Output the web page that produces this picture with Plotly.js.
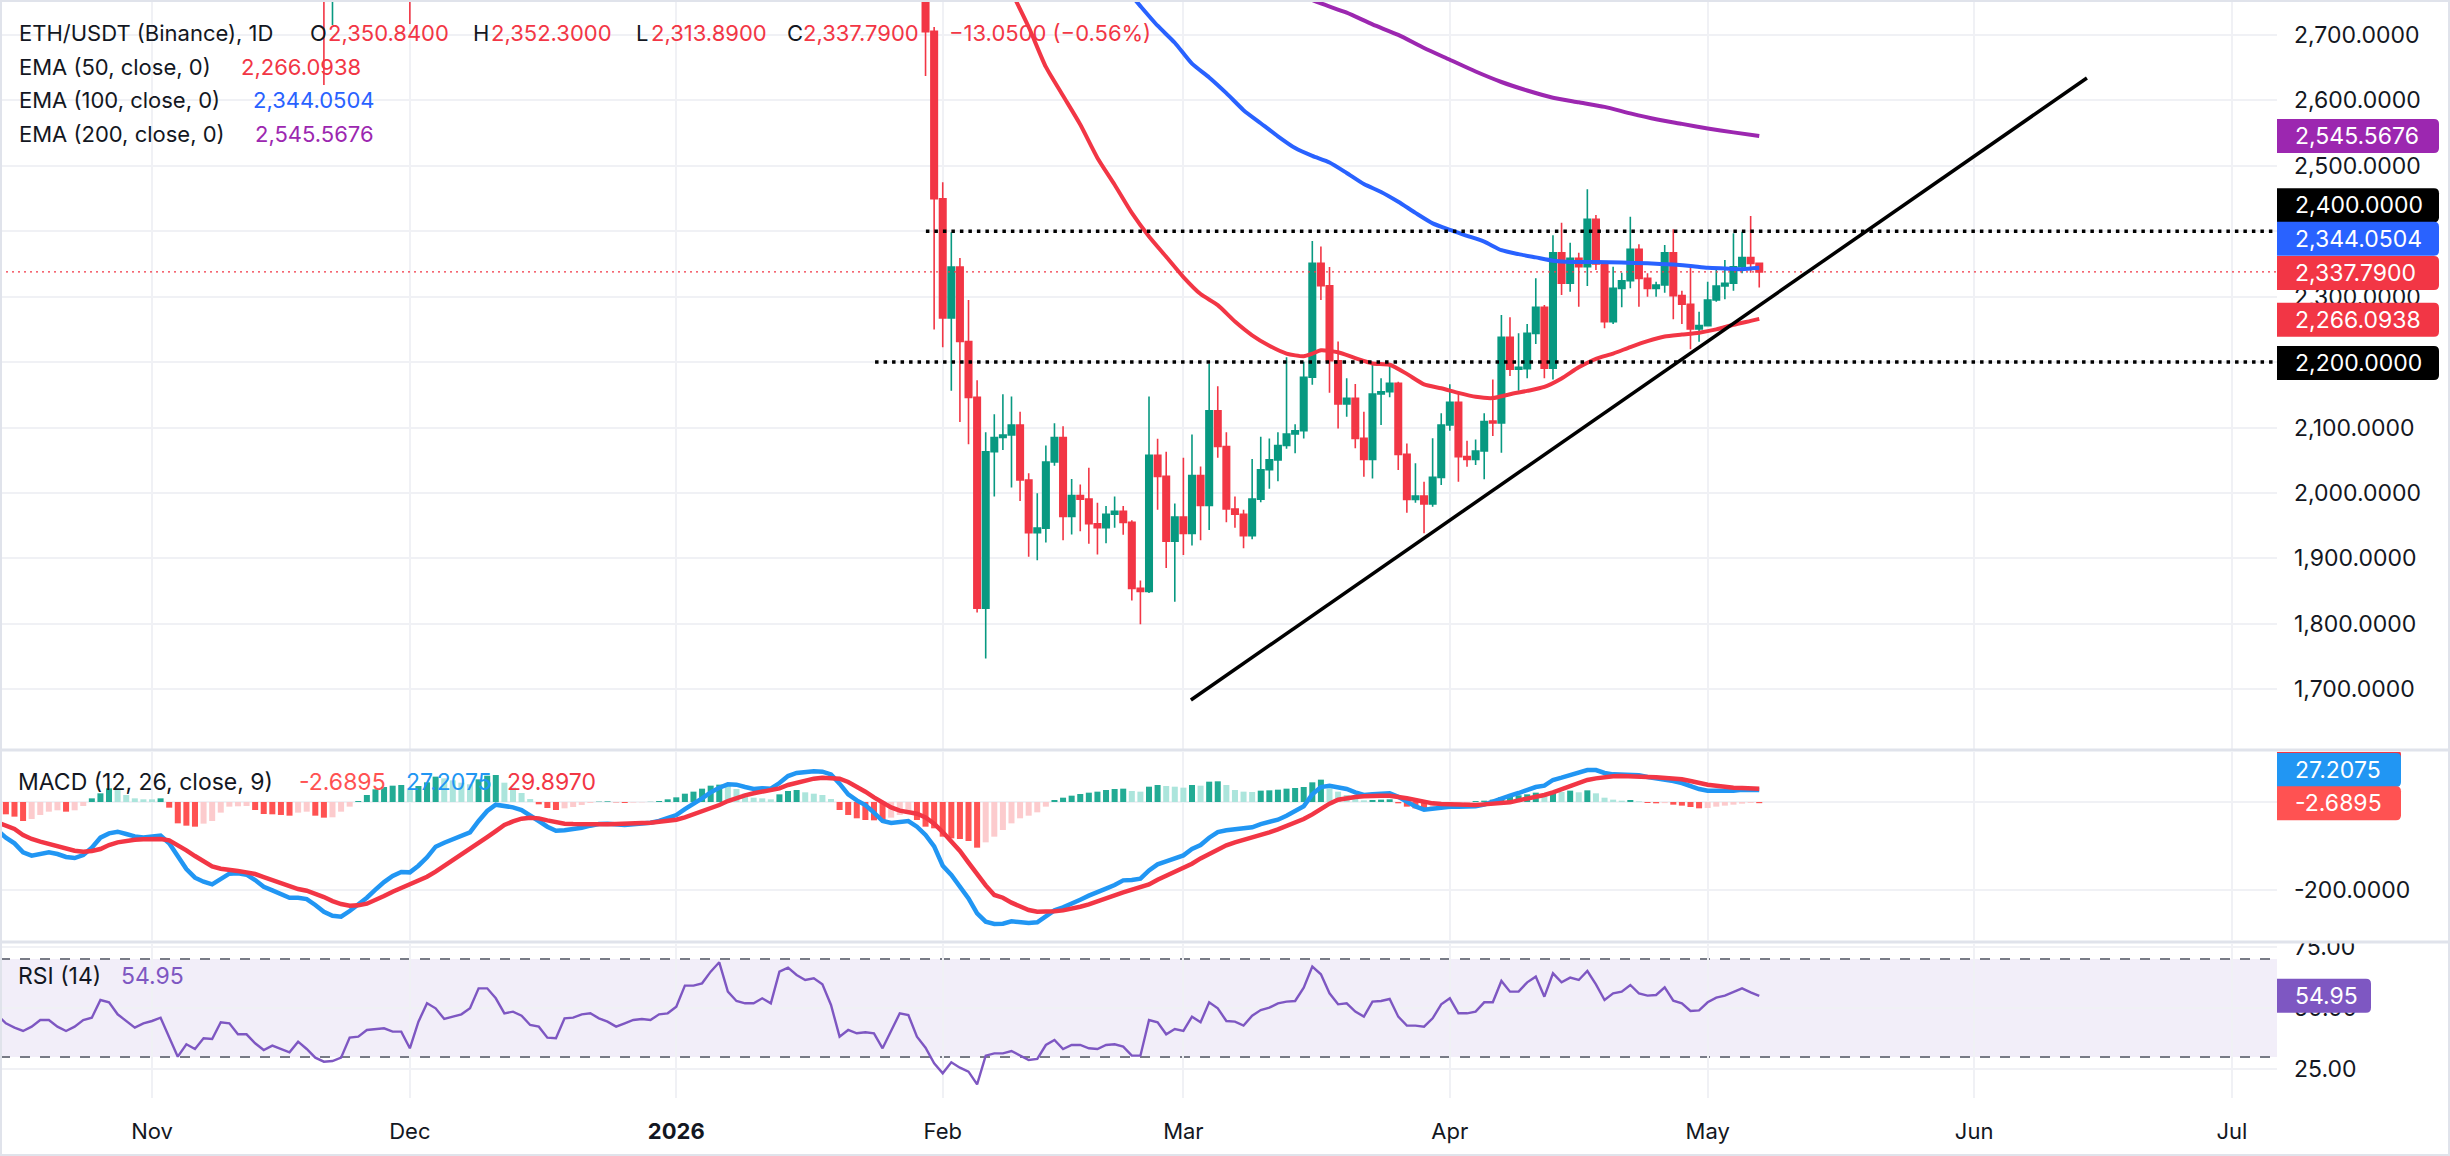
<!DOCTYPE html>
<html>
<head>
<meta charset="utf-8">
<script src="https://cdn.plot.ly/plotly-3.0.1.min.js"></script>
<style>
  html, body { margin: 0; padding: 0; background: #ffffff; }
  #chart { width: 2450px; height: 1156px; }
</style>
</head>
<body>
<div id="chart"></div>
<script>
// ---------------- ETH/USDT daily candles (Binance) ----------------
const earlyCandleDates = ['2025-11-21', '2025-11-22', '2025-12-01'];
const mainCandleStart = '2026-01-30';   // consecutive daily candles from here on
const candleOpen = [2820, 2765, 2990, 2830, 2705.5,
  2449.7, 2267.6, 2345.3, 2231.4, 2146.1, 1824.1, 2062.9, 2084.7, 2088.5, 2103.8, 2019.9, 1939.4, 1946.3, 2047.3, 2084.7, 1964.0, 1996.1, 1990.6, 1953.1, 1947.0, 1967.4, 1972.2, 1955.1, 1854.2, 1849.4, 2057.5, 2025.4, 1926.5,
  1963.3, 1938.1, 2026.8, 1981.1, 2125.7, 2071.1, 1975.6, 1967.4, 1934.7, 1990.6, 2035.6, 2050.6, 2072.5, 2090.2, 2095.0, 2176.8, 2350.8, 2316.7, 2202.1, 2135.9, 2144.6, 2083.5, 2051.4, 2151.2, 2154.8, 2167.5, 2059.0, 1990.3, 1995.4, 1983.1, 2023.9,
  2103.9, 2138.5, 2055.5, 2051.4, 2064.1, 2110.0, 2107.0, 2237.8, 2189.0, 2190.0, 2243.9, 2283.7, 2190.5, 2367.2, 2320.4, 2358.6, 2345.8, 2418.2, 2349.9, 2261.8, 2312.7, 2324.4, 2372.3, 2328.0, 2312.7, 2317.8, 2367.2, 2301.5, 2288.3, 2250.6,
  2255.7, 2294.9, 2316.3, 2320.4, 2345.8, 2359.6, 2350.84];
const candleHigh = [2850, 2800, 3010, 2860, 2712,
  2475.0, 2398.6, 2359.0, 2294.9, 2172.1, 2092.9, 2120.2, 2150.9, 2147.5, 2124.3, 2030.2, 1999.5, 2072.5, 2106.6, 2101.8, 2021.3, 2013.1, 2038.4, 1985.1, 1980.3, 1994.7, 1980.3, 1958.5, 1866.4, 2147.5, 2082.7, 2062.9, 1983.8,
  2054.0, 2089.5, 2040.4, 2197.3, 2163.2, 2092.9, 1994.7, 1974.2, 2052.0, 2086.1, 2083.4, 2092.9, 2207.5, 2105.2, 2200.7, 2384.9, 2376.7, 2345.3, 2231.4, 2175.2, 2166.5, 2124.2, 2197.1, 2175.2, 2197.1, 2170.0, 2075.8, 2045.3, 2017.3, 2083.5, 2121.7,
  2166.0, 2154.8, 2079.9, 2081.9, 2121.7, 2173.6, 2272.0, 2268.4, 2243.9, 2258.2, 2328.0, 2287.2, 2394.0, 2413.1, 2382.5, 2367.2, 2464.0, 2424.8, 2353.5, 2345.8, 2336.7, 2422.2, 2379.9, 2335.6, 2322.9, 2379.0, 2402.9, 2309.2, 2344.8, 2277.0,
  2322.9, 2340.7, 2356.0, 2396.8, 2399.3, 2423.2, 2352.30];
const candleLow = [2623.4, 2715, 2716.7, 2637, 2249.8,
  2222.5, 2156.4, 2108.6, 2074.5, 1817.3, 1747.0, 1994.7, 2065.6, 2008.3, 1987.9, 1902.6, 1897.1, 1924.4, 2041.8, 1927.8, 1936.7, 1941.5, 1922.4, 1906.0, 1923.1, 1946.9, 1936.0, 1835.7, 1799.6, 1847.0, 1974.2, 1885.5, 1833.7,
  1905.3, 1919.7, 1927.8, 1943.5, 2054.0, 1955.1, 1946.9, 1915.6, 1929.2, 1986.0, 2006.3, 2017.9, 2067.7, 2060.9, 2083.4, 2165.3, 2294.9, 2153.0, 2098.4, 2116.6, 2068.2, 2024.9, 2022.3, 2103.9, 2146.1, 2035.0, 1969.9, 1985.2, 1938.3, 1979.0, 2012.2,
  2095.2, 2017.3, 2040.2, 2042.7, 2020.8, 2087.0, 2061.6, 2178.8, 2156.3, 2175.2, 2227.6, 2175.2, 2173.6, 2302.5, 2307.6, 2284.7, 2316.3, 2340.7, 2251.6, 2258.2, 2283.7, 2312.7, 2284.7, 2300.0, 2300.0, 2306.0, 2265.3, 2258.2, 2219.5, 2231.2,
  2255.2, 2292.3, 2295.9, 2309.2, 2335.6, 2336.7, 2313.89];
const candleClose = [2770, 2780, 2800, 2705, 2449.7,
  2267.6, 2345.3, 2231.4, 2146.1, 1824.1, 2062.9, 2084.7, 2088.5, 2103.8, 2019.9, 1939.4, 1946.3, 2047.3, 2084.7, 1964.0, 1996.1, 1990.6, 1953.1, 1947.0, 1967.4, 1972.2, 1955.1, 1854.2, 1849.4, 2057.5, 2025.4, 1926.5, 1963.3,
  1938.1, 2026.8, 1981.1, 2125.7, 2071.1, 1975.6, 1967.4, 1934.7, 1990.6, 2035.6, 2050.6, 2072.5, 2090.2, 2095.0, 2176.8, 2350.8, 2316.7, 2202.1, 2135.9, 2144.6, 2083.5, 2051.4, 2151.2, 2154.8, 2167.5, 2059.0, 1990.3, 1995.4, 1983.1, 2023.9, 2103.9,
  2138.5, 2055.5, 2051.4, 2064.1, 2109.0, 2107.0, 2237.8, 2189.0, 2192.0, 2243.9, 2283.7, 2190.5, 2367.2, 2320.4, 2358.6, 2345.8, 2418.2, 2349.9, 2261.8, 2312.7, 2324.4, 2372.3, 2328.0, 2312.7, 2317.8, 2367.2, 2301.5, 2288.3, 2250.6, 2255.7,
  2294.9, 2316.3, 2320.4, 2345.8, 2359.6, 2350.84, 2337.79];

// ---------------- Moving averages ----------------
const ema50Dates = ['2026-02-09','2026-02-11','2026-02-13','2026-02-15','2026-02-17','2026-02-19','2026-02-21','2026-02-23','2026-02-25','2026-02-27',
  '2026-03-01','2026-03-03','2026-03-05','2026-03-07','2026-03-09','2026-03-11','2026-03-13','2026-03-15','2026-03-16','2026-03-17','2026-03-19','2026-03-21',
  '2026-03-23','2026-03-25','2026-03-27','2026-03-29','2026-03-31','2026-04-02','2026-04-04','2026-04-06','2026-04-08','2026-04-10','2026-04-12','2026-04-14',
  '2026-04-16','2026-04-18','2026-04-20','2026-04-22','2026-04-24','2026-04-26','2026-04-28','2026-04-30','2026-05-02','2026-05-04','2026-05-06','2026-05-07'];
const ema50Values = [2766, 2712, 2651, 2607, 2563, 2512, 2471, 2428, 2392, 2361,
  2330, 2304, 2287, 2262, 2241, 2225, 2213, 2209, 2213, 2218, 2215, 2206,
  2198, 2196, 2182, 2166, 2160, 2153, 2147, 2145, 2151, 2156, 2162, 2175,
  2192, 2205, 2213, 2223, 2232, 2239, 2242, 2245, 2250, 2257, 2263, 2266.0938];

const ema100Dates = ['2026-02-22','2026-02-24','2026-02-26','2026-02-28','2026-03-02','2026-03-04','2026-03-06','2026-03-08','2026-03-10','2026-03-12',
  '2026-03-14','2026-03-16','2026-03-18','2026-03-20','2026-03-22','2026-03-24','2026-03-26','2026-03-28','2026-03-30','2026-04-01','2026-04-03','2026-04-05',
  '2026-04-07','2026-04-09','2026-04-11','2026-04-13','2026-04-15','2026-04-18','2026-04-21','2026-04-24','2026-04-27','2026-04-29','2026-05-01','2026-05-03',
  '2026-05-05','2026-05-07'];
const ema100Values = [2775, 2744, 2714, 2688, 2656, 2635, 2611, 2585, 2565, 2545,
  2527, 2515, 2505, 2489, 2472, 2460, 2445, 2428, 2412, 2402, 2393, 2384,
  2371, 2365, 2360, 2355, 2353, 2353, 2352, 2351, 2349, 2347, 2344, 2343,
  2342, 2344.0504];

const ema200Dates = ['2026-03-15','2026-03-17','2026-03-20','2026-03-23','2026-03-26','2026-03-29','2026-04-01','2026-04-04','2026-04-07','2026-04-10',
  '2026-04-13','2026-04-16','2026-04-19','2026-04-22','2026-04-25','2026-04-28','2026-05-01','2026-05-04','2026-05-07'];
const ema200Values = [2759, 2748, 2734, 2716, 2700, 2680, 2662, 2644, 2628, 2615,
  2604, 2597, 2590, 2580, 2571, 2564, 2557, 2551, 2545.5676];

// ---------------- MACD (12, 26, close, 9) and RSI (14), one value per day ----------------
const indicatorStart = '2025-10-14';
const macdLine = [
  -63.7, -81.1, -94.0, -114.4, -122.0, -118.2, -114.4, -118.2, -125.0, -127.3, -120.5, -103.8, -81.1, -71.3, -67.5, -72.8, -78.1, -80.4,
  -78.8, -76.6, -94.0, -124.3, -152.3, -172.0, -181.1, -187.2, -175.1, -162.9,
  -162.2, -165.2, -177.3, -192.5, -200.8, -209.1, -217.5, -217.5, -220.5, -234.1,
  -249.3, -258.4, -260.7, -247.8, -233.4, -217.5, -199.3, -181.9, -168.2, -159.1,
  -159.9, -144.8, -125.8, -101.6, -92.5, -84.9, -77.3, -69.0, -43.2, -20.5,
  -6.1, -9.1, -12.2, -18.2, -29.6, -43.2, -56.1, -65.2, -64.4, -62.2,
  -58.4, -53.8, -50.0, -49.3, -50.8, -52.3, -50.8, -49.3, -47.0, -43.2,
  -37.2, -29.6, -16.0, -4.6, 8.3, 21.9, 32.5, 40.1, 39.3, 34.0,
  29.5, 31.0, 30.3, 43.1, 59.0, 65.9, 68.1, 69.7, 68.9, 62.8,
  41.6, 17.4, 3.7, -6.9, -24.3, -43.2, -47.8, -46.3, -43.2, -56.1,
  -75.0, -100.8, -144.8, -166.0, -192.5, -219.0, -253.1, -272.0, -277.3, -276.6,
  -271.3, -272.8, -275.0, -273.5, -258.4, -246.3, -239.4, -231.9, -222.0, -212.9,
  -206.1, -197.0, -188.7, -178.1, -177.3, -174.3, -155.4, -141.7, -134.9, -128.1,
  -121.3, -106.9, -97.8, -81.1, -68.2, -64.4, -62.9, -61.4, -57.6, -50.1,
  -44.8, -40.2, -31.1, -21.3, -9.9, 17.4, 34.0, 37.1, 34.0, 29.5,
  21.9, 15.9, 17.4, 18.9, 19.7, 12.1, 0.0, -9.9, -17.5, -14.4,
  -11.4, -10.7, -10.7, -10.7, -9.9, -6.1, 0.7, 9.8, 14.3, 20.4,
  28.0, 34.0, 37.1, 50.0, 55.3, 60.6, 66.6, 72.7, 72.7, 65.9,
  62.8, 62.8, 62.1, 60.6, 56.8, 53.7, 52.2, 47.7, 43.1, 36.3,
  29.5, 25.7, 25.0, 25.0, 25.7, 28.0, 28.7, 27.2075];
const signalLine = [
  -46.3, -53.8, -61.4, -75.0, -84.1, -90.2, -95.5, -100.8, -106.9, -110.7, -112.9, -111.4, -106.9, -97.8, -91.7, -87.9, -85.7, -84.9,
  -84.1, -84.1, -87.2, -97.8, -109.9, -122.8, -135.7, -146.3, -151.6, -155.4,
  -156.9, -159.9, -163.7, -170.5, -177.3, -184.9, -192.5, -197.8, -201.6, -208.4,
  -216.0, -225.1, -231.9, -235.7, -234.9, -231.1, -223.5, -213.7, -203.8, -195.5,
  -188.7, -180.4, -169.8, -158.4, -145.5, -133.4, -120.5, -108.4, -94.0, -79.6,
  -66.0, -52.3, -44.0, -37.9, -35.7, -37.2, -41.7, -46.3, -49.3, -50.1,
  -50.8, -50.8, -50.8, -50.8, -50.1, -50.1, -49.3, -47.8, -47.0, -45.5,
  -43.2, -40.2, -34.9, -28.1, -22.0, -15.2, -6.9, 2.2, 9.8, 15.1,
  19.7, 23.4, 25.0, 31.0, 38.6, 43.9, 49.2, 53.0, 55.3, 55.3,
  53.0, 45.4, 34.8, 23.4, 10.6, 0.0, -12.2, -19.7, -22.8, -26.6,
  -34.9, -49.3, -68.2, -88.7, -111.4, -137.9, -164.4, -189.5, -211.4, -217.5,
  -228.8, -237.9, -245.5, -249.3, -249.3, -248.5, -246.3, -243.2, -237.9, -232.6,
  -226.6, -219.8, -212.2, -205.4, -200.1, -194.8, -187.2, -176.6, -167.5, -158.4,
  -148.5, -140.2, -128.1, -117.5, -108.4, -98.5, -91.7, -86.4, -81.1, -75.0,
  -69.0, -62.2, -54.6, -47.0, -38.7, -28.1, -16.0, -3.8, 5.3, 9.0,
  11.3, 12.8, 14.3, 14.3, 14.3, 12.1, 8.3, 4.5, 0.0, -3.1,
  -4.6, -5.4, -5.4, -6.1, -6.9, -5.4, -3.8, -1.6, -0.8, 3.7,
  7.5, 11.3, 15.9, 21.9, 28.7, 35.6, 43.1, 50.0, 53.7, 56.8,
  58.3, 59.0, 59.0, 58.3, 56.8, 56.0, 54.5, 53.7, 51.5, 47.7,
  43.1, 39.3, 37.1, 34.0, 32.5, 31.8, 31.0, 29.8970];
const macdHist = [
  -25.8, -28.0, -33.3, -43.2, -38.6, -29.5, -22.0, -18.9, -22.0, -18.9, -9.1, 8.3, 19.7, 31.1, 27.3, 15.9, 8.3, 6.1,
  6.1, 8.3, -12.9, -48.5, -53.8, -56.1, -49.2, -43.2, -24.2, -10.6,
  -9.8, -9.1, -18.2, -27.3, -28.0, -29.5, -31.1, -24.2, -22.0, -31.1,
  -35.6, -34.8, -22.0, -10.6, 2.3, 15.9, 28.8, 34.1, 37.1, 38.6,
  31.1, 36.4, 44.7, 57.6, 53.8, 49.2, 43.9, 40.2, 51.5, 59.8,
  61.4, 43.9, 32.6, 20.5, 6.8, -5.3, -13.6, -18.2, -14.4, -11.4,
  -6.8, -2.3, 0.8, 1.5, -0.8, -2.3, -1.5, -0.8, 0.4, 2.3,
  6.1, 10.6, 18.9, 23.5, 30.3, 37.1, 39.4, 37.9, 29.5, 18.9,
  9.8, 8.3, 6.1, 17.4, 25.0, 27.3, 22.0, 18.9, 15.9, 6.8,
  -18.2, -29.5, -37.1, -40.9, -41.7, -43.2, -35.6, -29.5, -22.0, -40.9,
  -56.1, -59.8, -78.8, -82.6, -84.1, -88.6, -103.8, -91.7, -78.8, -63.6,
  -48.5, -37.1, -31.1, -23.5, -10.6, 4.5, 9.8, 14.4, 18.2, 21.2,
  23.5, 27.3, 29.5, 30.3, 25.0, 23.5, 34.8, 38.6, 36.4, 34.8,
  32.6, 38.6, 37.1, 46.2, 47.0, 38.6, 27.3, 23.5, 22.7, 25.8,
  26.5, 28.0, 30.3, 31.8, 34.1, 44.7, 50.8, 31.1, 23.5, 15.9,
  9.8, 3.8, 4.5, 5.3, 6.1, -3.0, -10.6, -14.4, -15.9, -12.9,
  -7.6, -5.3, -3.8, -3.0, 2.3, 3.0, 5.3, 11.4, 12.1, 15.2,
  17.4, 21.2, 15.9, 23.5, 22.7, 25.8, 22.0, 26.5, 19.7, 9.8,
  5.3, 3.0, 4.5, 1.5, -2.3, -3.0, -2.6, -6.1, -8.3, -11.4,
  -14.4, -13.6, -10.6, -8.3, -6.1, -3.8, -2.3, -2.6895];
const rsiValues = [
  47.15, 43.75, 41.98, 40.62, 42.39, 45.11, 45.11, 42.39, 40.62, 42.39, 45.11, 46.06, 53.27, 52.32, 47.42, 44.70, 41.98, 43.75,
  44.70, 46.06, 37.90, 30.14, 35.18, 33.27, 37.63, 37.36, 44.16, 43.75,
  39.26, 39.26, 35.59, 32.87, 34.63, 33.27, 31.91, 36.27, 33.27, 29.74,
  28.10, 28.37, 29.74, 37.90, 38.31, 41.03, 41.44, 41.71, 40.35, 40.35,
  33.55, 44.43, 51.91, 49.87, 45.52, 46.47, 47.42, 49.87, 58.03, 58.03,
  53.95, 47.83, 48.51, 46.88, 43.07, 42.39, 37.90, 37.63, 45.79, 46.06,
  47.42, 47.83, 45.79, 44.43, 42.39, 43.75, 45.11, 45.52, 45.11, 47.42,
  47.83, 50.55, 59.12, 59.12, 60.07, 64.84, 68.65, 56.67, 52.86, 51.91,
  51.91, 53.95, 51.91, 64.84, 66.47, 63.48, 61.43, 62.12, 59.67, 51.23,
  38.31, 41.03, 39.67, 40.08, 39.67, 33.55, 40.62, 47.83, 47.15, 38.31,
  33.82, 27.42, 23.34, 27.83, 25.65, 24.02, 18.85, 30.55, 31.50, 31.50,
  32.46, 30.55, 28.78, 29.19, 34.90, 36.95, 33.27, 34.90, 34.90, 33.55,
  33.27, 34.90, 35.18, 34.22, 30.55, 30.55, 45.11, 44.16, 39.26, 41.44,
  40.62, 46.47, 44.16, 52.32, 49.87, 44.70, 44.43, 42.80, 46.88, 49.19,
  50.14, 51.91, 52.59, 52.86, 58.31, 66.88, 63.75, 55.99, 51.50, 51.91,
  48.51, 46.47, 52.59, 52.86, 53.68, 46.47, 42.80, 42.80, 42.39, 45.79,
  51.50, 53.95, 47.83, 47.83, 48.51, 52.32, 52.32, 61.03, 56.67, 56.67,
  60.48, 62.80, 54.63, 64.16, 60.48, 62.39, 61.43, 65.11, 59.67, 53.27,
  55.99, 56.67, 59.39, 55.99, 55.04, 55.31, 58.44, 53.00, 51.91, 48.78,
  49.05, 52.32, 54.22, 55.04, 56.67, 58.03, 56.40, 54.95];

// ---------------- Axis ticks and drawings ----------------
const monthTicks = ['2025-11-01','2025-12-01','2026-01-01','2026-02-01','2026-03-01','2026-04-01','2026-05-01','2026-06-01','2026-07-01'];
const monthLabels = ['Nov','Dec','<b>2026</b>','Feb','Mar','Apr','May','Jun','Jul'];
const priceTicks = [1700, 1800, 1900, 2000, 2100, 2200, 2300, 2400, 2500, 2600, 2700];
const macdTicks = [0, -200];
const macdTickText = ['', '-200.0000'];   // zero level label sits under the value tags
const rsiTicks = [25, 50, 75];
const levelPrices = [2400, 2200];
const levelStarts = ['2026-01-30 01:00', '2026-01-24 03:00'];
const trendDates = ['2026-03-01 21:00', '2026-06-14 03:00'];
const trendPrices = [1683.7, 2634.1];
const lastOpen = 2350.84, lastHigh = 2352.30, lastLow = 2313.89, lastClose = 2337.79;
const lastChange = -13.05, lastChangePct = -0.56;

// ---------------- helpers ----------------
function dayList(start, n) {
  const t0 = Date.parse(start + 'T00:00:00Z');
  const out = [];
  for (let i = 0; i < n; i++) out.push(new Date(t0 + i * 86400000).toISOString().slice(0, 10));
  return out;
}
const fmt4 = v => v.toLocaleString('en-US', {minimumFractionDigits: 4, maximumFractionDigits: 4});
const candleDates = earlyCandleDates.concat(dayList(mainCandleStart, candleOpen.length - earlyCandleDates.length));
const indicatorDates = dayList(indicatorStart, macdLine.length);

const histColors = macdHist.map((v, i) => {
  const prev = i > 0 ? macdHist[i - 1] : v;
  if (v >= 0) return v > prev ? '#22ab94' : '#ace5dc';
  return v < prev ? '#ff5252' : '#fccbcd';
});

// figure geometry (pixels)
const FIG_W = 2450, FIG_H = 1156, M_R = 173, M_B = 58;
const PLOT_W = FIG_W - M_R, PLOT_H = FIG_H - M_B;
const py = p => 1 - p / PLOT_H;          // pixel row -> paper y
const pxR = (FIG_W - 1) / PLOT_W;        // paper x at figure right edge

const FONT = 'Inter, "Noto Sans", Roboto, sans-serif';
const INK = '#131722';
const GRID = '#f0f1f5';

const shapes = [];
const annotations = [];

// RSI background band and guide levels
shapes.push({type: 'rect', xref: 'paper', yref: 'y3', x0: 0, x1: 1, y0: 30, y1: 70,
  fillcolor: '#f2eef9', line: {width: 0}, layer: 'below'});
[70, 50, 30].forEach(v => shapes.push({type: 'line', xref: 'paper', yref: 'y3', x0: 0, x1: 1, y0: v, y1: v,
  line: {color: '#787b86', width: 2, dash: '10px,10px'}, layer: 'below'}));

// Horizontal level drawings
levelPrices.forEach((lv, i) => shapes.push({type: 'line', xref: 'x', yref: 'y', x0: levelStarts[i], x1: '2026-08-01', y0: lv, y1: lv,
  line: {color: '#000000', width: 3.5, dash: '3.5px,5px'}}));
// Last price line
shapes.push({type: 'line', xref: 'paper', yref: 'y', x0: 0, x1: 1, y0: lastClose, y1: lastClose,
  line: {color: '#f23645', width: 1.2, dash: '2px,4px'}});
// Ascending trend line
shapes.push({type: 'line', xref: 'x', yref: 'y', x0: trendDates[0], x1: trendDates[1], y0: trendPrices[0], y1: trendPrices[1],
  line: {color: '#000000', width: 3.5}});

// Value tags on the right scale
function tagPath(w, c) {
  const h = 17, r = 5, b = c - h, t = c + h;
  return `M0,${b} L${w - r},${b} Q${w},${b} ${w},${b + r} L${w},${t - r} Q${w},${t} ${w - r},${t} L0,${t} Z`;
}
function tagBox(yref, value, shift, width, color) {
  shapes.push({type: 'path', xref: 'paper', xsizemode: 'pixel', xanchor: 1, yref: yref, ysizemode: 'pixel', yanchor: value,
    path: tagPath(width, shift), fillcolor: color, line: {width: 0}});
}
function tag(yref, value, shift, width, color, text) {
  tagBox(yref, value, shift, width, color);
  annotations.push({xref: 'paper', x: 1, xanchor: 'left', xshift: 16, yref: yref, y: value, yshift: shift, yanchor: 'middle',
    text: text, showarrow: false, font: {family: FONT, size: 23, color: '#ffffff'}});
}
tag('y', ema200Values[ema200Values.length - 1], 0, 162, '#9c27b0', fmt4(ema200Values[ema200Values.length - 1]));
tag('y', levelPrices[0], 26, 162, '#000000', fmt4(levelPrices[0]));
tag('y', ema100Values[ema100Values.length - 1], 29, 162, '#2962ff', fmt4(ema100Values[ema100Values.length - 1]));
tag('y', lastClose, -1, 162, '#f23645', fmt4(lastClose));
tag('y', ema50Values[ema50Values.length - 1], -1, 162, '#f23645', fmt4(ema50Values[ema50Values.length - 1]));
tag('y', levelPrices[1], -1, 162, '#000000', fmt4(levelPrices[1]));
// signal tag sits behind the MACD tag; only its top edge shows
tagBox('y2', signalLine[signalLine.length - 1], 22, 124, '#f23645');
tag('y2', macdLine[macdLine.length - 1], 20, 124, '#2196f3', macdLine[macdLine.length - 1].toFixed(4));
tag('y2', macdHist[macdHist.length - 1], 0, 124, '#ff5252', macdHist[macdHist.length - 1].toFixed(4));
tag('y3', rsiValues[rsiValues.length - 1], 0, 94, '#7e57c2', rsiValues[rsiValues.length - 1].toFixed(2));

// mask the scale area just above the RSI pane, then pane separators and frame
shapes.push({type: 'rect', xref: 'paper', yref: 'paper', x0: 1, x1: pxR, y0: py(941), y1: py(925),
  fillcolor: '#ffffff', line: {width: 0}});
[750, 942].forEach(p => shapes.push({type: 'line', xref: 'paper', yref: 'paper', x0: 0, x1: pxR, y0: py(p), y1: py(p),
  line: {color: '#e0e3eb', width: 3}}));
shapes.push({type: 'rect', xref: 'paper', yref: 'paper', x0: 1 / PLOT_W, x1: pxR, y0: py(FIG_H - 1), y1: py(1),
  line: {color: '#e0e3eb', width: 2}, fillcolor: 'rgba(0,0,0,0)'});

// Pane legends
function label(x, y, text, color, size) {
  annotations.push({xref: 'paper', yref: 'paper', x: 0, y: 1, xanchor: 'left', yanchor: 'middle', xshift: x, yshift: -y,
    text: text, showarrow: false, font: {family: FONT, size: size || 22, color: color}});
}
const RED = '#f23645';
label(17, 33, 'ETH/USDT (Binance), 1D', INK);
label(308, 33, 'O', INK);  label(326, 33, fmt4(lastOpen), RED);
label(471, 33, 'H', INK);  label(489, 33, fmt4(lastHigh), RED);
label(634, 33, 'L', INK);  label(649, 33, fmt4(lastLow), RED);
label(785, 33, 'C', INK);  label(801, 33, fmt4(lastClose), RED);
label(947, 33, '\u2212' + Math.abs(lastChange).toFixed(4) + ' (\u2212' + Math.abs(lastChangePct).toFixed(2) + '%)', RED);
label(17, 67, 'EMA (50, close, 0)', INK);   label(239, 67, fmt4(ema50Values[ema50Values.length - 1]), '#f23645');
label(17, 100, 'EMA (100, close, 0)', INK); label(251, 100, fmt4(ema100Values[ema100Values.length - 1]), '#2962ff');
label(17, 134, 'EMA (200, close, 0)', INK); label(253, 134, fmt4(ema200Values[ema200Values.length - 1]), '#9c27b0');
label(16, 782, 'MACD (12, 26, close, 9)', INK, 23);
label(297, 782, macdHist[macdHist.length - 1].toFixed(4), '#ff5252', 23);
label(404, 782, macdLine[macdLine.length - 1].toFixed(4), '#2196f3', 23);
label(505, 782, signalLine[signalLine.length - 1].toFixed(4), '#f23645', 23);
label(16, 976, 'RSI (14)', INK, 23);
label(119, 976, rsiValues[rsiValues.length - 1].toFixed(2), '#7e57c2', 23);

// ---------------- traces ----------------
const traces = [
  {type: 'candlestick', x: candleDates, open: candleOpen, high: candleHigh, low: candleLow, close: candleClose,
   xaxis: 'x', yaxis: 'y', whiskerwidth: 0, hoverinfo: 'skip',
   increasing: {line: {color: '#089981', width: 1.6}, fillcolor: '#089981'},
   decreasing: {line: {color: '#f23645', width: 1.6}, fillcolor: '#f23645'}},
  {type: 'scatter', mode: 'lines', x: ema50Dates, y: ema50Values, xaxis: 'x', yaxis: 'y',
   line: {color: '#f23645', width: 4, shape: 'spline', smoothing: 0.6}, hoverinfo: 'skip'},
  {type: 'scatter', mode: 'lines', x: ema100Dates, y: ema100Values, xaxis: 'x', yaxis: 'y',
   line: {color: '#2962ff', width: 4, shape: 'spline', smoothing: 0.6}, hoverinfo: 'skip'},
  {type: 'scatter', mode: 'lines', x: ema200Dates, y: ema200Values, xaxis: 'x', yaxis: 'y',
   line: {color: '#9c27b0', width: 4, shape: 'spline', smoothing: 0.6}, hoverinfo: 'skip'},
  {type: 'bar', x: indicatorDates, y: macdHist, xaxis: 'x2', yaxis: 'y2', width: 0.7 * 86400000,
   marker: {color: histColors, line: {width: 0}}, hoverinfo: 'skip'},
  {type: 'scatter', mode: 'lines', x: indicatorDates, y: macdLine, xaxis: 'x2', yaxis: 'y2',
   line: {color: '#2196f3', width: 4.5}, hoverinfo: 'skip'},
  {type: 'scatter', mode: 'lines', x: indicatorDates, y: signalLine, xaxis: 'x2', yaxis: 'y2',
   line: {color: '#f23645', width: 4.5}, hoverinfo: 'skip'},
  {type: 'scatter', mode: 'lines', x: indicatorDates, y: rsiValues, xaxis: 'x3', yaxis: 'y3',
   line: {color: '#7e57c2', width: 2.4}, hoverinfo: 'skip'}
];

const xRange = ['2025-10-14 07:34', '2026-07-06 05:45'];
const xBase = {type: 'date', range: xRange, tickmode: 'array', tickvals: monthTicks, ticktext: monthLabels,
  showgrid: true, gridcolor: GRID, gridwidth: 2, zeroline: false, showline: false, ticks: '', fixedrange: true};
const yBase = {side: 'right', showgrid: true, gridcolor: GRID, gridwidth: 2, zeroline: false, showline: false,
  ticks: '', ticklabelstandoff: 16, tickfont: {family: FONT, size: 23, color: INK}, fixedrange: true};

const layout = {
  width: FIG_W, height: FIG_H,
  margin: {l: 0, r: M_R, t: 0, b: M_B, pad: 0},
  paper_bgcolor: '#ffffff', plot_bgcolor: '#ffffff',
  font: {family: FONT, color: INK},
  showlegend: false, hovermode: false, dragmode: false,
  boxgap: 0.25, boxgroupgap: 0,
  xaxis: Object.assign({}, xBase, {anchor: 'y', showticklabels: false, rangeslider: {visible: false}}),
  xaxis2: Object.assign({}, xBase, {anchor: 'y2', matches: 'x', showticklabels: false}),
  xaxis3: Object.assign({}, xBase, {anchor: 'y3', matches: 'x', showticklabels: true, ticklabelstandoff: 18,
    tickfont: {family: FONT, size: 22, color: INK}}),
  yaxis: Object.assign({}, yBase, {anchor: 'x', domain: [py(749), 1], range: [1608.8, 2753.3],
    tickmode: 'array', tickvals: priceTicks, ticktext: priceTicks.map(fmt4)}),
  yaxis2: Object.assign({}, yBase, {anchor: 'x2', domain: [py(940), py(752)], range: [-313.6, 113.6],
    tickmode: 'array', tickvals: macdTicks, ticktext: macdTickText}),
  yaxis3: Object.assign({}, yBase, {anchor: 'x3', domain: [0, py(944)], range: [13.27, 76.12],
    tickmode: 'array', tickvals: rsiTicks, ticktext: rsiTicks.map(v => v.toFixed(2))}),
  shapes: shapes,
  annotations: annotations
};

Plotly.newPlot('chart', traces, layout, {displayModeBar: false, staticPlot: true});
</script>
</body>
</html>
